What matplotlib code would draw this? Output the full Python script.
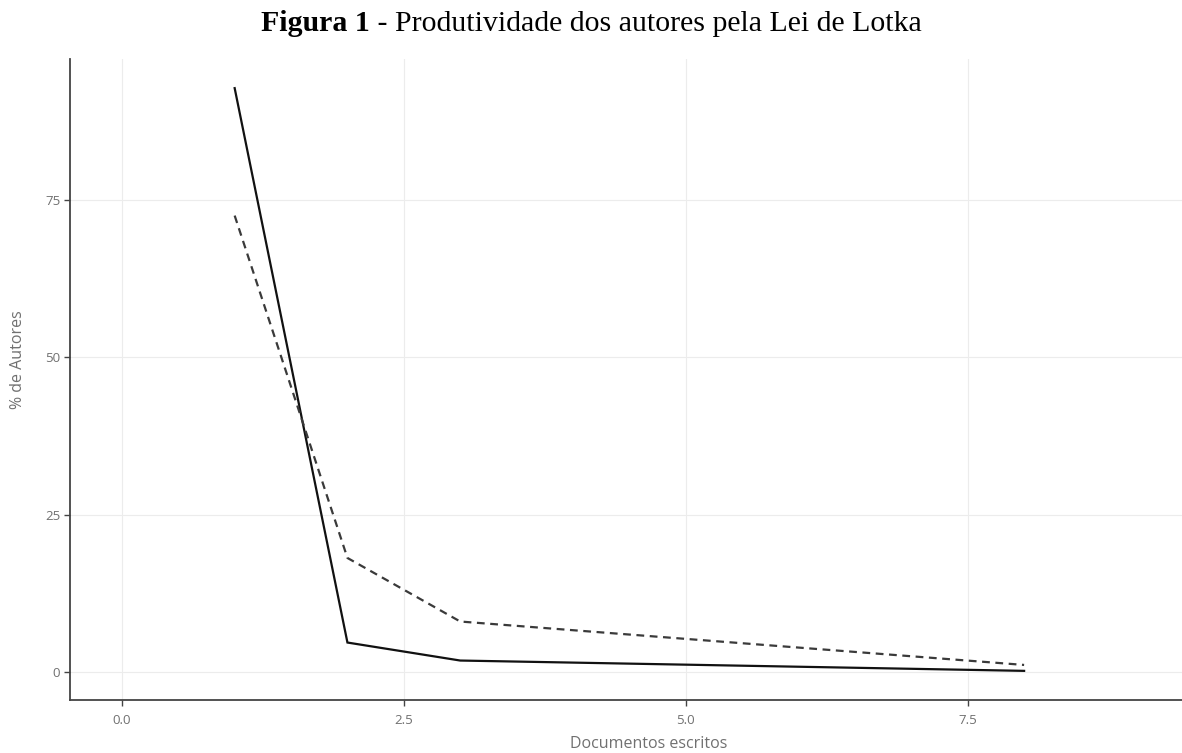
import matplotlib
matplotlib.use("Agg")
import matplotlib.pyplot as plt

# Data
documentos = [1, 2, 3, 8]
observado = [92.75, 4.66, 1.80, 0.16]
teorico = [72.5, 18.1, 8.0, 1.1]
xticks = [0.0, 2.5, 5.0, 7.5]
xtick_labels = ["0.0", "2.5", "5.0", "7.5"]
yticks = [0, 25, 50, 75]
ytick_labels = ["0", "25", "50", "75"]

W, H = 1182, 753
fig = plt.figure(figsize=(W / 100, H / 100), dpi=100)
ax = fig.add_axes([70 / W, 1 - 700 / H, (W - 70) / W, (700 - 59) / H])

tick_color = "#707070"
font = ["Open Sans", "DejaVu Sans"]

ax.plot(documentos, observado, color="#111111", lw=1.6, solid_joinstyle="miter", zorder=3)
ax.plot(documentos, teorico, color="#3a3a3a", lw=1.6, dashes=(3.5, 2.5), zorder=3)

ax.set_xlim(-0.46, 9.4)
ax.set_ylim(-4.47, 97.38)
ax.set_xticks(xticks)
ax.set_xticklabels(xtick_labels, fontfamily=font, fontsize=9.5, color=tick_color)
ax.set_yticks(yticks)
ax.set_yticklabels(ytick_labels, fontfamily=font, fontsize=9.5, color=tick_color)
ax.tick_params(axis="both", length=4, width=1, color="#444444")
ax.tick_params(axis="y", pad=3)
ax.tick_params(axis="x", pad=6)

ax.grid(True, color="#ececec", lw=0.8)
ax.set_axisbelow(True)
for s in ["top", "right"]:
    ax.spines[s].set_visible(False)
for s in ["left", "bottom"]:
    ax.spines[s].set_color("#444444")
    ax.spines[s].set_linewidth(1.3)

fig.text(649 / W, 1 - 744 / H, "Documentos escritos", fontfamily=font, fontsize=11.5,
         color=tick_color, ha="center", va="center")
fig.text(18 / W, 1 - 360 / H, "% de Autores", fontfamily=font, fontsize=11.5,
         color=tick_color, ha="center", va="center", rotation=90)

# Title with bold prefix
serif = ["Liberation Serif", "DejaVu Serif"]
t1 = fig.text(0, 0, "Figura 1", fontfamily=serif, fontweight="bold", fontsize=21.5)
t2 = fig.text(0, 0, " - Produtividade dos autores pela Lei de Lotka", fontfamily=serif, fontsize=21.5)
fig.canvas.draw()
r = fig.canvas.get_renderer()
w1 = t1.get_window_extent(r).width
w2 = t2.get_window_extent(r).width
x0 = 591 - (w1 + w2) / 2
y = 1 - 31 / H
t1.set_position((x0 / W, y))
t2.set_position(((x0 + w1) / W, y))

fig.savefig("out.png", dpi=100)
